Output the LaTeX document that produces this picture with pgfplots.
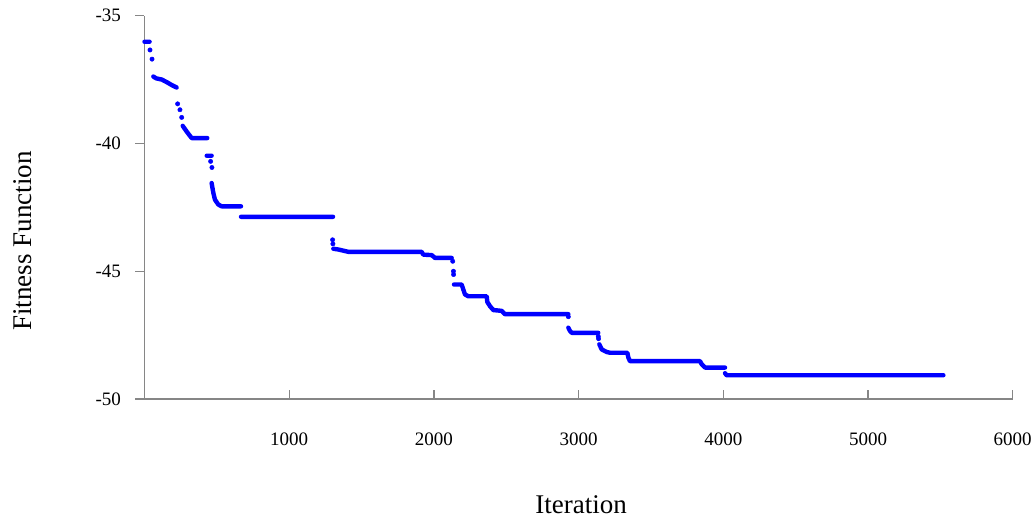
\documentclass[border=0pt]{standalone}
\usepackage{fontspec}
\setmainfont{Liberation Serif}
\usepackage{pgfplots}
\pgfplotsset{compat=1.18}
\definecolor{axgray}{RGB}{134,134,134}
\definecolor{dotblue}{RGB}{0,0,255}

\begin{document}
\begin{tikzpicture}
\path[use as bounding box] (-144.5pt,-120pt) rectangle (890.5pt,399pt);
\begin{axis}[
  scale only axis,
  width=868.2pt, height=383.3pt,
  xmin=0, xmax=6000, ymin=-50, ymax=-35,
  xtick={1000,2000,3000,4000,5000,6000},
  ytick={-50,-45,-40,-35},
  axis x line*=bottom, axis y line*=left,
  axis line style={-, draw=axgray, line width=1.3pt},
  xtick align=inside, ytick align=outside,
  major tick length=9pt,
  tick style={draw=axgray, line width=1.3pt},
  /pgf/number format/assume math mode=true,
  /pgf/number format/1000 sep={},
  ticklabel style={font=\fontsize{19}{22}\selectfont, text=black},
  xticklabel style={yshift=-30pt},
  yticklabel style={xshift=-11pt},
  xlabel={Iteration}, ylabel={Fitness Function},
  label style={font=\fontsize{27}{30}\selectfont},
  xlabel style={at={(axis description cs:0.503,-0.277)}, anchor=center},
  ylabel style={at={(axis description cs:-0.1405,0.412)}, anchor=center},
  clip=false,
  unbounded coords=jump,
]
% flat stretches, dense dots drawn as a thick line
\addplot[dotblue, line width=4.4pt, line cap=round, line join=round] coordinates {
  (0,-36.02) (35,-36.02) (35,nan)
  (61,-37.38) (80,-37.45) (120,-37.5) (160,-37.62) (190,-37.72) (222,-37.81) (222,nan)
  (264,-39.31) (291,-39.53) (326,-39.79) (434,-39.79) (434,nan)
  (430,-40.48) (464,-40.48) (464,nan)
  (464,-41.55) (470,-41.75) (476,-41.94) (487,-42.2) (510,-42.39) (533,-42.46) (667,-42.46) (667,nan)
  (667,-42.87) (1303,-42.87) (1303,nan)
  (1305,-44.12) (1340,-44.15) (1408,-44.24) (1915,-44.24) (1927,-44.35) (1985,-44.37)
  (2008,-44.48) (2123,-44.48) (2123,nan)
  (2139,-45.52) (2192,-45.52) (2203,-45.71) (2215,-45.91) (2238,-45.98) (2365,-45.98)
  (2369,-46.2) (2388,-46.37) (2411,-46.52) (2468,-46.55) (2491,-46.68) (2929,-46.68) (2929,nan)
  (2929,-47.21) (2941,-47.34) (2952,-47.41) (3136,-47.41) (3136,nan)
  (3143,-47.86) (3160,-48.06) (3194,-48.16) (3217,-48.19) (3337,-48.19) (3344,-48.38)
  (3355,-48.52) (3839,-48.52) (3851,-48.64) (3874,-48.77) (4012,-48.77) (4012,nan)
  (4012,-48.99) (4023,-49.07) (5521,-49.07)
};
% isolated dots on the drops
\addplot[only marks, mark=*, mark size=2.2pt, dotblue] coordinates {
  (38,-36.34) (52,-36.70) (229,-38.45) (245,-38.68) (257,-38.98)
  (457,-40.70) (466,-40.94) (1300,-43.77) (1302,-43.93)
  (2130,-44.61) (2135,-45.0) (2136,-45.13) (2929,-46.78)
  (3136,-47.55) (3138,-47.64)
};
\end{axis}
\end{tikzpicture}
\end{document}
